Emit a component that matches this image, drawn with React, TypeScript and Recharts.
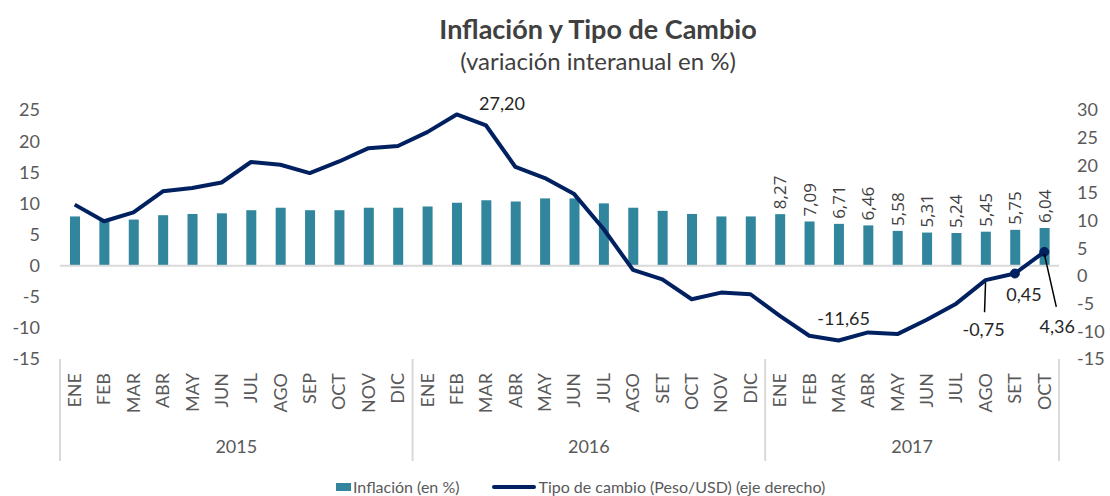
import React from 'react';
import {
  ComposedChart, Bar, Line, XAxis, YAxis, ReferenceLine, Legend
} from 'recharts';

const months = [
  'ENE', 'FEB', 'MAR', 'ABR', 'MAY', 'JUN', 'JUL', 'AGO', 'SEP', 'OCT', 'NOV', 'DIC',
  'ENE', 'FEB', 'MAR', 'ABR', 'MAY', 'JUN', 'JUL', 'AGO', 'SET', 'OCT', 'NOV', 'DIC',
  'ENE', 'FEB', 'MAR', 'ABR', 'MAY', 'JUN', 'JUL', 'AGO', 'SET', 'OCT',
];
const years = [
  2015, 2015, 2015, 2015, 2015, 2015, 2015, 2015, 2015, 2015, 2015, 2015,
  2016, 2016, 2016, 2016, 2016, 2016, 2016, 2016, 2016, 2016, 2016, 2016,
  2017, 2017, 2017, 2017, 2017, 2017, 2017, 2017, 2017, 2017,
];
// Inflación (eje izquierdo)
const inflacion = [
  7.9, 7.2, 7.4, 8.1, 8.3, 8.4, 8.9, 9.3, 8.9, 8.9, 9.3, 9.3,
  9.5, 10.1, 10.5, 10.3, 10.8, 10.8, 10.0, 9.3, 8.8, 8.3, 7.9, 7.9,
  8.27, 7.09, 6.71, 6.46, 5.58, 5.31, 5.24, 5.45, 5.75, 6.04,
];
// Tipo de cambio Peso/USD (eje derecho)
const tipoCambio = [
  12.9, 9.9, 11.5, 15.3, 15.9, 16.9, 20.6, 20.1, 18.6, 20.7, 23.1, 23.5,
  26.0, 29.2, 27.2, 19.7, 17.7, 14.8, 8.5, 1.1, -0.6, -4.2, -3.0, -3.3,
  -7.2, -10.8, -11.65, -10.2, -10.5, -7.9, -5.0, -0.75, 0.45, 4.36,
];
const leftTicks = [-15, -10, -5, 0, 5, 10, 15, 20, 25];
const rightTicks = [-15, -10, -5, 0, 5, 10, 15, 20, 25, 30];
const labeledBarYear = 2017;
const labeledLinePoints = [14, 26, 31, 32, 33];
const markedLinePoints = [32, 33];

// label placement for the line (offsets from the point)
const linePlacement: Record<number, { dx: number; dy: number; leader?: [number, number, number, number] }> = {
  14: { dx: 16, dy: -22 },
  26: { dx: 5, dy: -22 },
  31: { dx: -2, dy: 49, leader: [0, 2, -1, 32] },
  32: { dx: 9, dy: 20 },
  33: { dx: 13, dy: 74, leader: [0, 2, 12, 55] },
};

const chartData = months.map((m, i) => ({
  key: `${m}-${years[i]}`,
  month: m,
  year: years[i],
  inflacion: inflacion[i],
  cambio: tipoCambio[i],
}));

const fmt = (v: number) => v.toFixed(2).replace('.', ',');

const BAR_COLOR = '#31859C';
const LINE_COLOR = '#002060';
const AXIS_TEXT = '#595959';
const FONT = 'Lato, "Open Sans", sans-serif';

const MonthTick = (props: any) => {
  const { x, y, payload } = props;
  const idx = payload.index ?? props.index;
  const d = chartData[idx];
  const half = payload.offset || 14.69;
  const isFirst = idx === 0 || chartData[idx - 1].year !== d.year;
  const isLast = idx === chartData.length - 1;
  const count = chartData.filter((c) => c.year === d.year).length;
  return (
    <g>
      <text
        x={x}
        y={y + 14}
        dy="0.35em"
        transform={`rotate(-90, ${x}, ${y + 14})`}
        textAnchor="end"
        fontSize={18}
        fill={AXIS_TEXT}
        fontFamily={FONT}
      >
        {d.month}
      </text>
      {isFirst && (
        <>
          <line x1={x - half} x2={x - half} y1={y} y2={y + 102} stroke="#D9D9D9" strokeWidth={2} />
          <text
            x={x - half + count * half}
            y={y + 87}
            textAnchor="middle"
            dominantBaseline="central"
            fontSize={18}
            fill={AXIS_TEXT}
            fontFamily={FONT}
          >
            {d.year}
          </text>
        </>
      )}
      {isLast && (
        <line x1={x + half} x2={x + half} y1={y} y2={y + 102} stroke="#D9D9D9" strokeWidth={2} />
      )}
    </g>
  );
};

// bar with its rotated value label (only 2017)
const BarWithLabel = (props: any) => {
  const { x, y, width, height, index } = props;
  const d = chartData[index];
  const cx = x + width / 2 + 6;
  const ty = y - 5;
  return (
    <g>
      <rect x={x} y={y} width={width} height={height} fill={BAR_COLOR} />
      {d && d.year === labeledBarYear && (
        <text
          x={cx}
          y={ty}
          transform={`rotate(-90 ${cx} ${ty})`}
          textAnchor="start"
          fontSize={17}
          fill="#404040"
          style={{ fontFamily: '"Open Sans", sans-serif' }}
        >
          {fmt(d.inflacion)}
        </text>
      )}
    </g>
  );
};

const renderLineLabel = (props: any) => {
  const { x, y, index } = props;
  if (!labeledLinePoints.includes(index)) return <g key={`ll-${index}`} />;
  const p = linePlacement[index];
  return (
    <g key={`ll-${index}`}>
      {p.leader && (
        <line
          x1={x + p.leader[0]}
          y1={y + p.leader[1]}
          x2={x + p.leader[2]}
          y2={y + p.leader[3]}
          stroke="#000"
          strokeWidth={1.5}
        />
      )}
      <text
        x={x + p.dx}
        y={y + p.dy}
        textAnchor="middle"
        dominantBaseline="central"
        fontSize={18}
        fill="#262626"
        fontFamily={FONT}
      >
        {fmt(chartData[index].cambio)}
      </text>
    </g>
  );
};

const renderDot = (props: any) => {
  const { cx, cy, index } = props;
  if (!markedLinePoints.includes(index)) return <g key={`d-${index}`} />;
  return <circle key={`d-${index}`} cx={cx} cy={cy} r={4.5} fill={LINE_COLOR} stroke={LINE_COLOR} />;
};

const LegendContent = () => (
  <div style={{ display: 'flex', alignItems: 'center', fontFamily: FONT, fontSize: 16, lineHeight: '18px', color: AXIS_TEXT, whiteSpace: 'nowrap' }}>
    <span style={{ display: 'inline-block', width: 15, height: 8, background: BAR_COLOR, marginRight: 2 }} />
    <span>Inflación (en %)</span>
    <span
      style={{
        display: 'inline-block', width: 44, height: 4, borderRadius: 2,
        background: LINE_COLOR, marginLeft: 33, marginRight: 2,
      }}
    />
    <span>Tipo de cambio (Peso/USD) (eje derecho)</span>
  </div>
);

export default function App() {
  return (
    <div style={{ position: 'absolute', left: 0, top: 0, width: 1110, height: 496, background: '#fff', fontFamily: FONT }}>
      <div
        style={{
          position: 'absolute', left: 0, width: 1196, top: 12, textAlign: 'center',
          fontSize: 27, fontWeight: 700, color: '#404040', lineHeight: '34px',
        }}
      >
        Inflación y Tipo de Cambio
      </div>
      <div
        style={{
          position: 'absolute', left: 0, width: 1196, top: 46, textAlign: 'center',
          fontSize: 24, color: '#404040', lineHeight: '30px',
        }}
      >
        (variación interanual en %)
      </div>
      <ComposedChart
        width={1110}
        height={496}
        data={chartData}
        margin={{ top: 110, right: 0, bottom: 0, left: 0 }}
        style={{ position: 'absolute', left: 0, top: 0 }}
      >
        <XAxis
          dataKey="key"
          interval={0}
          height={137}
          axisLine={false}
          tickLine={false}
          tickSize={0}
          tickMargin={0}
          tick={<MonthTick />}
        />
        <YAxis
          yAxisId="left"
          domain={[-15, 25]}
          ticks={leftTicks}
          width={60}
          axisLine={false}
          tickLine={false}
          tickSize={0}
          tickMargin={20}
          tick={{ fontSize: 18, fill: AXIS_TEXT, fontFamily: FONT }}
        />
        <YAxis
          yAxisId="right"
          orientation="right"
          domain={[-15, 30]}
          ticks={rightTicks}
          width={51}
          axisLine={false}
          tickLine={false}
          tickSize={0}
          tickMargin={18}
          tick={{ fontSize: 18, fill: AXIS_TEXT, fontFamily: FONT }}
        />
        <ReferenceLine yAxisId="left" y={0} stroke="#D9D9D9" strokeWidth={2} />
        <Bar
          yAxisId="left"
          dataKey="inflacion"
          name="Inflación (en %)"
          fill={BAR_COLOR}
          barSize={10}
          isAnimationActive={false}
          shape={<BarWithLabel />}
        />
        <Line
          yAxisId="right"
          type="linear"
          dataKey="cambio"
          name="Tipo de cambio (Peso/USD) (eje derecho)"
          stroke={LINE_COLOR}
          strokeWidth={4}
          strokeLinejoin="round"
          dot={renderDot}
          activeDot={false}
          isAnimationActive={false}
          label={renderLineLabel}
        />
        <Legend
          verticalAlign="middle"
          align="center"
          wrapperStyle={{ position: 'absolute', top: 478, left: 336, width: 620, height: 18 }}
          content={<LegendContent />}
        />
      </ComposedChart>
    </div>
  );
}
